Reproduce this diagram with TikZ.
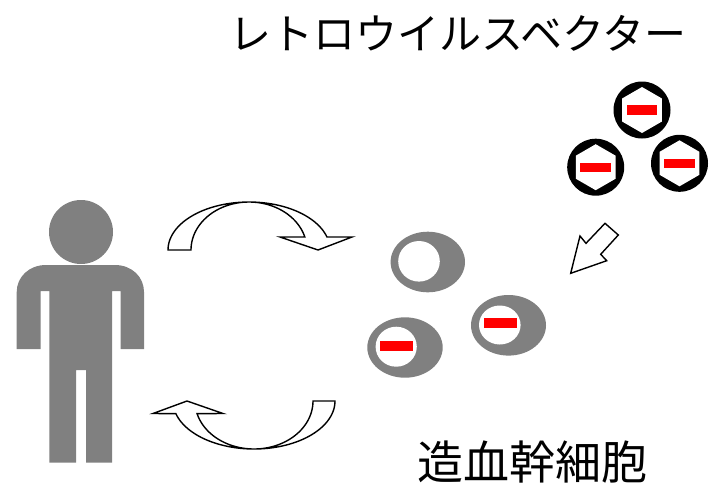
\documentclass[tikz,border=0pt]{standalone}
\usepackage{fontspec}
\setmainfont{Noto Sans CJK JP}
\usetikzlibrary{shapes.geometric}
\definecolor{bodygray}{RGB}{128,128,128}
\definecolor{markred}{RGB}{255,0,0}
\tikzset{
  blockarrow/.style={draw=black, fill=white, line width=1.4pt, line join=miter},
  personfill/.style={fill=bodygray},
  cellbody/.style={fill=bodygray},
  nucleus/.style={fill=white},
  redbar/.style={fill=markred},
  capsid/.style={fill=black},
  label/.style={inner sep=0pt, font=\fontsize{#1}{#1}\selectfont},
}
\begin{document}
\begin{tikzpicture}[x=1pt, y=-1pt]
\useasboundingbox (0,0) rectangle (720,491);

% ---- person ----
\fill[personfill] (81,232) circle[radius=32];
\fill[personfill]
  (16.7,349) -- (16.7,292)
  .. controls (16.7,277) and (29,265) .. (46,265)
  -- (115,265)
  .. controls (132,265) and (144,277) .. (144,292)
  -- (144,349) -- (120.7,349) -- (120.7,291) -- (112,291)
  -- (112,462.7) -- (86,462.7) -- (86,370) -- (76,370)
  -- (76,462.7) -- (49.3,462.7) -- (49.3,291) -- (40.7,291)
  -- (40.7,349) -- cycle;

% ---- curved block arrow: person -> cells ----
\draw[blockarrow]
  plot[domain=180:15.7, samples=60] ({249+81*cos(\x)}, {250-48*sin(\x)})
  -- (352,237) -- (318,250) -- (280,237)
  -- plot[domain=15.7:180, samples=60] ({249+58*cos(\x)}, {250-48*sin(\x)})
  -- cycle;

% ---- curved block arrow: cells -> person ----
\draw[blockarrow]
  plot[domain=0:164.7, samples=60] ({254+81*cos(\x)}, {401+48*sin(\x)})
  -- (153,413.5) -- (187,401) -- (223,413.5)
  -- plot[domain=164.7:0, samples=60] ({254+59*cos(\x)}, {401+48*sin(\x)})
  -- cycle;

% ---- straight block arrow: vectors -> cells ----
\draw[blockarrow] (570.7,273.3) -- (580,236) -- (586,243.3) -- (605,223.3)
  -- (618.3,235) -- (600.7,254.3) -- (606.7,260.7) -- cycle;

% ---- stem cells ----
\fill[cellbody] (427.8,262) ellipse[x radius=37.2, y radius=30.3];
\fill[nucleus] (419,261.3) ellipse[x radius=20.8, y radius=20.3];

\fill[cellbody] (405,347.5) ellipse[x radius=37.7, y radius=30.2];
\fill[nucleus] (396.2,346.7) ellipse[x radius=20.6, y radius=20];
\fill[redbar] (380,340.7) rectangle (412.7,351);

\fill[cellbody] (508.5,325.3) ellipse[x radius=37.5, y radius=30.3];
\fill[nucleus] (499.8,325) ellipse[x radius=20.8, y radius=19.5];
\fill[redbar] (484,317.7) rectangle (516.7,327.7);

% ---- retrovirus vectors ----
\foreach \cx/\cy in {642/110, 595.7/167.2, 679.5/163.3}{
  \fill[capsid] (\cx,\cy) circle[radius=28.5];
  \fill[nucleus] plot[domain=90:450, samples=7] ({\cx+23*cos(\x)}, {\cy-23*sin(\x)}) -- cycle;
  \fill[redbar] (\cx-15.4,\cy-4.7) rectangle (\cx+15.4,\cy+4.7);
}

% ---- labels ----
\node[label=42] (vectorlabel) at (458,33) {レトロウイルスベクター};
\node[label=46] (celllabel) at (532,462) {造血幹細胞};
\end{tikzpicture}
\end{document}
